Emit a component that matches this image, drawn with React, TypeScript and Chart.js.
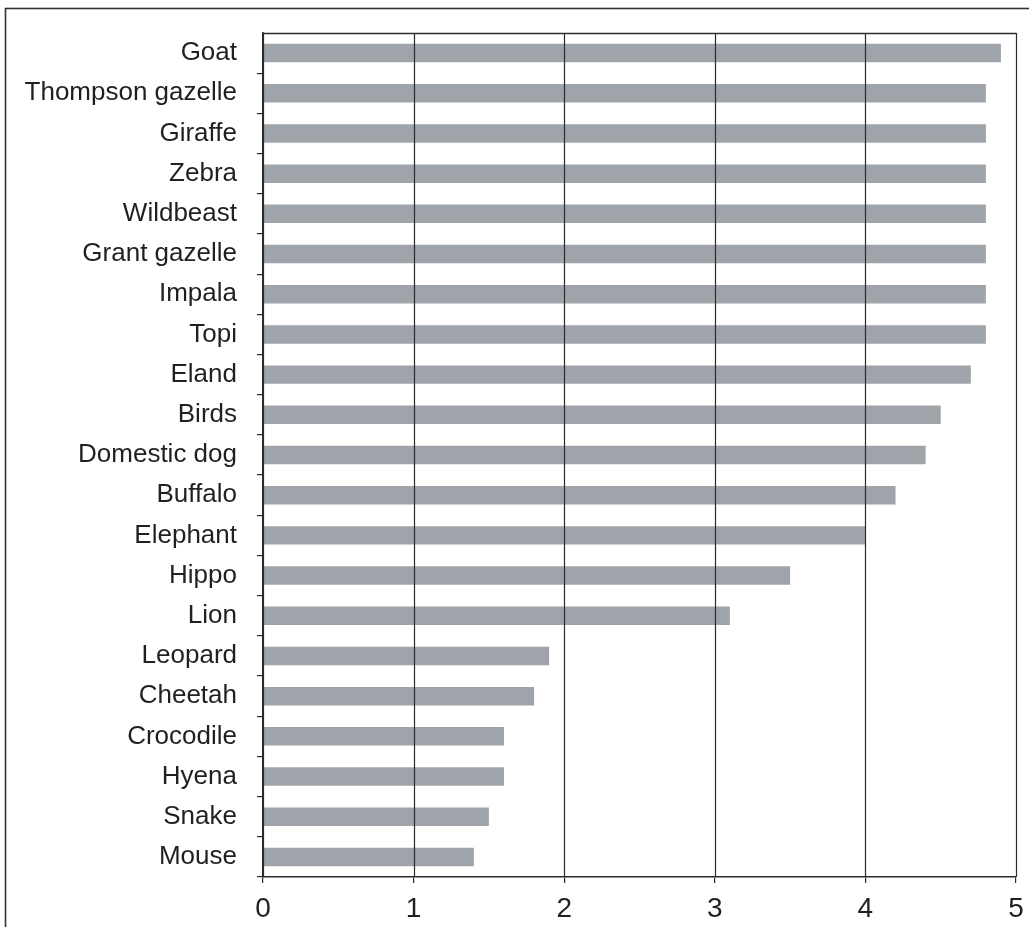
import React, { useEffect, useRef } from "react";
import { Chart, registerables } from "chart.js";

Chart.register(...registerables);

const categories = [
  "Goat", "Thompson gazelle", "Giraffe", "Zebra", "Wildbeast", "Grant gazelle",
  "Impala", "Topi", "Eland", "Birds", "Domestic dog", "Buffalo", "Elephant",
  "Hippo", "Lion", "Leopard", "Cheetah", "Crocodile", "Hyena", "Snake", "Mouse",
];
const values = [
  4.9, 4.8, 4.8, 4.8, 4.8, 4.8, 4.8, 4.8, 4.7, 4.5, 4.4, 4.2, 4.0,
  3.5, 3.1, 1.9, 1.8, 1.6, 1.6, 1.5, 1.4,
];
const xTicks = [0, 1, 2, 3, 4, 5];

const W = 1029;
const H = 927;
const TEXT = "#231f20";
const LINE = "#2b2b2b";

const overlay = {
  id: "overlay",
  beforeDraw(chart: any) {
    const ctx = chart.ctx;
    ctx.save();
    ctx.fillStyle = "#ffffff";
    ctx.fillRect(0, 0, W, H);
    ctx.strokeStyle = "#333333";
    ctx.lineWidth = 1.6;
    ctx.strokeRect(5.5, 8.5, W + 20, H + 20);
    ctx.restore();
  },
  afterDatasetsDraw(chart: any) {
    const { ctx, chartArea, scales } = chart;
    const x = scales.x;
    ctx.save();
    ctx.strokeStyle = LINE;
    ctx.lineWidth = 1.2;
    xTicks.forEach((v) => {
      const px = Math.round(x.getPixelForValue(v)) + 0.5;
      ctx.beginPath();
      ctx.moveTo(px, chartArea.top);
      ctx.lineTo(px, chartArea.bottom);
      ctx.stroke();
    });
    ctx.lineWidth = 1.6;
    ctx.beginPath();
    ctx.moveTo(chartArea.left, chartArea.top + 0.5);
    ctx.lineTo(chartArea.right, chartArea.top + 0.5);
    ctx.stroke();
    ctx.restore();
  },
};

export default function App() {
  const ref = useRef<HTMLCanvasElement | null>(null);
  useEffect(() => {
    if (!ref.current) return;
    const chart = new Chart(ref.current, {
      type: "bar",
      data: {
        labels: categories,
        datasets: [
          {
            data: values,
            backgroundColor: "#9ea4aa",
            borderWidth: 0,
            barPercentage: 0.46,
            categoryPercentage: 1,
          },
        ],
      },
      options: {
        indexAxis: "y",
        animation: false,
        responsive: false,
        devicePixelRatio: 1,
        layout: { padding: { top: 33, right: 13, left: 0, bottom: 0 } },
        plugins: { legend: { display: false }, tooltip: { enabled: false } },
        scales: {
          x: {
            type: "linear",
            min: 0,
            max: 5,
            afterFit: (s: any) => {
              s.height = 50;
              s.paddingLeft = 0;
              s.paddingRight = 0;
            },
            afterBuildTicks: (s: any) => {
              s.ticks = xTicks.map((v) => ({ value: v }));
            },
            grid: {
              drawOnChartArea: false,
              drawTicks: true,
              tickLength: 6,
              color: LINE,
              lineWidth: 1.2,
            },
            border: { display: true, color: LINE, width: 1.6 },
            ticks: {
              color: TEXT,
              padding: 9,
              font: { family: "'Liberation Sans', Arial, sans-serif", size: 28 },
              maxRotation: 0,
            },
          },
          y: {
            type: "category",
            afterFit: (s: any) => {
              s.width = 263;
              s.paddingTop = 0;
              s.paddingBottom = 0;
            },
            grid: {
              drawOnChartArea: false,
              drawTicks: true,
              tickLength: 6,
              offset: true,
              color: (c: any) => (c.index === 0 ? "rgba(0,0,0,0)" : LINE),
              lineWidth: 1.2,
            },
            border: { display: true, color: LINE, width: 1.6 },
            ticks: {
              color: TEXT,
              padding: 20,
              autoSkip: false,
              font: { family: "'Liberation Sans', Arial, sans-serif", size: 26 },
            },
          },
        },
      },
      plugins: [overlay],
    });
    return () => chart.destroy();
  }, []);
  return (
    <div style={{ position: "fixed", left: 0, top: 0, width: W, height: H, background: "#fff" }}>
      <canvas ref={ref} width={W} height={H} style={{ width: W, height: H, display: "block" }} />
    </div>
  );
}
